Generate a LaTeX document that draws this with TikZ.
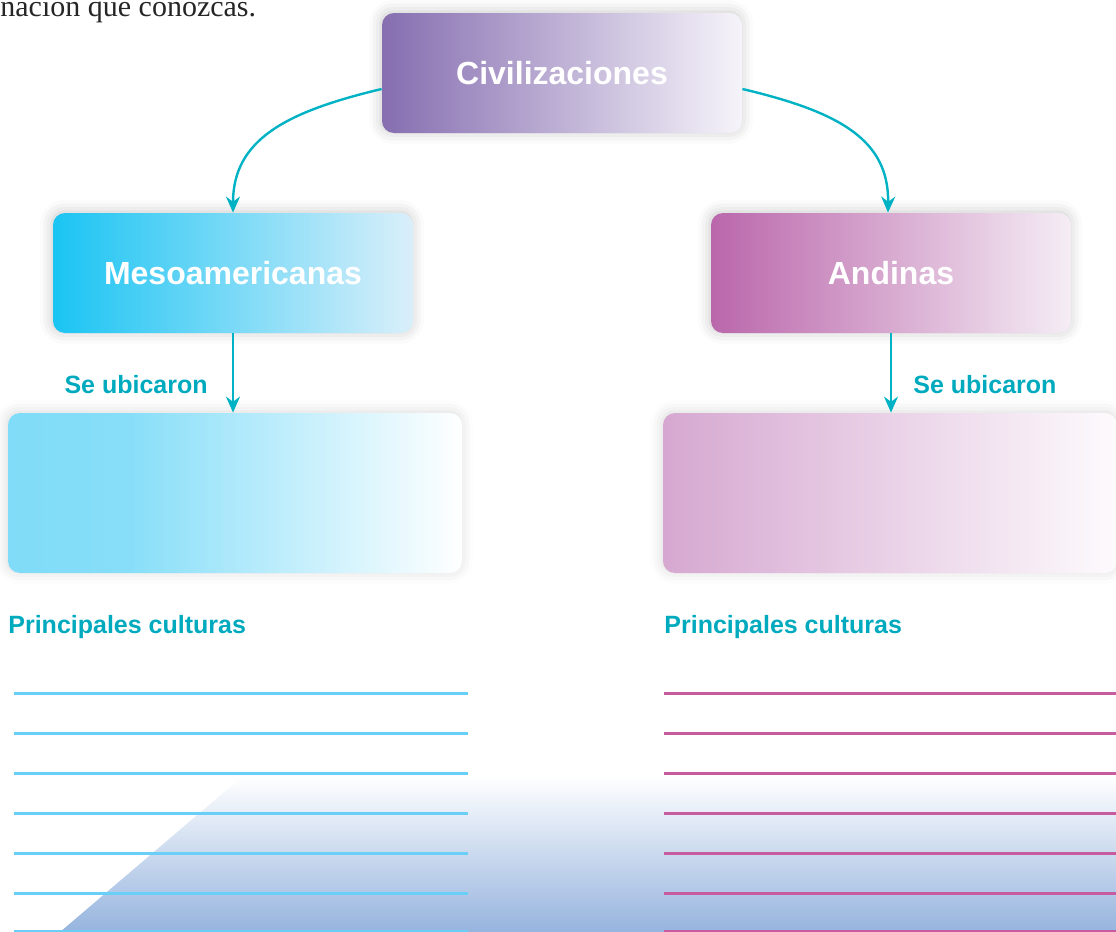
\documentclass[tikz,border=0pt]{standalone}
\usepackage{fontspec}
\setmainfont{Liberation Serif}
\setsansfont{Liberation Sans}
\usepackage{xcolor}
\usetikzlibrary{arrows.meta,shadows.blur}
\definecolor{accent}{RGB}{0,178,196}
\definecolor{labelcol}{RGB}{0,170,190}
\definecolor{civA}{RGB}{134,110,176}
\definecolor{civB}{RGB}{246,244,250}
\definecolor{mesoA}{RGB}{26,196,243}
\definecolor{mesoB}{RGB}{218,239,250}
\definecolor{andA}{RGB}{186,103,171}
\definecolor{andB}{RGB}{245,237,245}
\definecolor{mesoC}{RGB}{128,220,248}
\definecolor{andC}{RGB}{214,168,209}
\definecolor{mesoline}{RGB}{106,207,246}
\definecolor{andline}{RGB}{199,91,160}
\definecolor{floor}{RGB}{150,180,222}
\pgfdeclarehorizontalshading{mesoplace}{100bp}{color(0bp)=(mesoC); color(25bp)=(mesoC); color(38bp)=(mesoC!95!white); color(75bp)=(white); color(100bp)=(white)}
\pgfdeclarehorizontalshading{andplace}{100bp}{color(0bp)=(andC); color(25bp)=(andC); color(75bp)=(andC!5!white); color(100bp)=(andC!5!white)}

\begin{document}
\begin{tikzpicture}[x=0.5pt,y=-0.5pt,
        main box/.style={rectangle,rounded corners=6pt,minimum width=180pt,minimum height=60pt,
          text=white,font=\sffamily\bfseries\fontsize{16}{18}\selectfont,
          blur shadow={shadow xshift=-0.5pt,shadow yshift=0.5pt,shadow blur radius=6pt,shadow opacity=22}},
        place box/.style={rectangle,rounded corners=6pt,minimum width=227pt,minimum height=80pt,
          blur shadow={shadow xshift=-0.5pt,shadow yshift=0.5pt,shadow blur radius=6pt,shadow opacity=15}},
        arrow edge/.style={draw=accent,line width=1.2pt,-{Stealth[length=8pt,width=7pt]}},
        label text/.style={text=labelcol,font=\sffamily\bfseries\fontsize{12.5}{14}\selectfont,inner sep=0pt},
        write line/.style={line width=1.5pt}
      ]
      \useasboundingbox (0,0) rectangle (1116,932);

      % soft floor behind the writing lines
      \shade[top color=white,bottom color=floor] (60,932) -- (243,776) -- (1116,776) -- (1116,932) -- cycle;

      % text cut at the top of the page
      \node[anchor=base west,inner sep=0pt,font=\fontsize{15}{17}\selectfont,text=black!85] (intro) at (0,16) {nación que conozcas.};

      % boxes
      \node[main box,left color=civA,right color=civB] (civ) at (562,73) {Civilizaciones};
      \node[main box,left color=mesoA,right color=mesoB] (meso) at (233,273) {Mesoamericanas};
      \node[main box,left color=andA,right color=andB] (and) at (891,273) {Andinas};
      \node[place box,shading=mesoplace] (mesoplace) at (235,493) {};
      \node[place box,shading=andplace] (andplace) at (890,493) {};

      % labels
      \node[label text,anchor=east] (mesoubi) at (208,385) {Se ubicaron};
      \node[label text,anchor=west] (andubi) at (913,385) {Se ubicaron};
      \node[label text,anchor=west] (mesocult) at (8,627) {Principales culturas};
      \node[label text,anchor=west] (andcult) at (664,627) {Principales culturas};

      % connectors
      \path[arrow edge] ([yshift=-8pt]civ.west) .. controls (285,112) and (233,140) .. (meso.north);
      \path[arrow edge] ([yshift=-8pt]civ.east) .. controls (840,112) and (889,140) .. ([xshift=-1.5pt]and.north);
      \path[arrow edge] (meso.south) -- (meso.south |- mesoplace.north);
      \path[arrow edge] (and.south) -- (and.south |- andplace.north);

      % writing lines
      \foreach \y in {693,733,773,813,853,893,931} {
        \draw[write line,draw=mesoline] (14,\y) -- (468,\y);
        \draw[write line,draw=andline] (664,\y) -- (1116,\y);
      }
    \end{tikzpicture}
\end{document}
